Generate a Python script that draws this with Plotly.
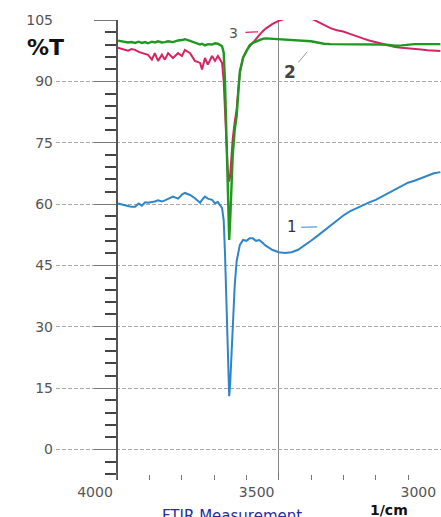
import plotly.graph_objects as go

# ---------------- data ----------------
wavenumber = [3997, 3980, 3966, 3955, 3944, 3933, 3923, 3913, 3904, 3892, 3883, 3873, 3861, 3852,
              3842, 3827, 3811, 3799, 3790, 3774, 3759, 3743, 3737, 3728, 3719, 3706, 3697, 3688,
              3675, 3670, 3666, 3662, 3658, 3655, 3653, 3650, 3646, 3642, 3636, 3630, 3625, 3620,
              3610, 3600, 3590, 3580, 3570, 3560, 3550, 3540, 3520, 3500, 3480, 3460, 3440, 3420,
              3400, 3380, 3360, 3340, 3320, 3300, 3280, 3260, 3240, 3220, 3200, 3180, 3160, 3140,
              3120, 3100, 3080, 3060, 3040, 3020, 3000]

curve1 = [60.1, 59.7, 59.5, 59.3, 59.3, 60.1, 59.6, 60.4, 60.3, 60.5, 60.6, 60.9, 60.6, 60.9,
          61.3, 61.8, 61.3, 62.3, 62.7, 62.2, 61.4, 60.3, 61.0, 61.8, 61.3, 61.0, 60.2, 60.5,
          59.0, 56.0, 48.0, 36.0, 24.0, 16.0, 13.0, 16.0, 24.0, 31.6, 40.0, 46.0, 48.5, 50.0,
          51.2, 51.0, 51.6, 51.6, 51.0, 51.2, 50.5, 49.8, 48.8, 48.2, 48.0, 48.2, 48.8, 49.8,
          51.0, 52.2, 53.5, 54.8, 56.0, 57.2, 58.2, 59.0, 59.7, 60.4, 61.0, 61.8, 62.6, 63.5,
          64.4, 65.2, 65.7, 66.3, 67.0, 67.5, 67.8]

curve2 = [99.95, 99.7, 99.5, 99.6, 99.4, 99.7, 99.4, 99.6, 99.3, 99.7, 99.5, 99.8, 99.5, 99.6,
          99.8, 99.6, 100.0, 100.1, 100.3, 99.9, 99.5, 99.0, 99.2, 98.8, 99.1, 99.0, 99.3, 99.2,
          98.6, 97.0, 90.0, 79.0, 66.0, 57.0, 51.2, 56.0, 64.0, 72.0, 78.0, 81.5, 87.0, 92.5,
          95.8, 97.5, 98.8, 99.4, 99.8, 100.2, 100.4, 100.5, 100.4, 100.2, 100.1, 100.1, 100.0, 99.9,
          99.8, 99.5, 99.2, 99.1, 99.1, 99.1, 99.1, 99.1, 99.1, 99.1, 99.1, 99.0, 98.9, 98.7,
          98.8, 99.0, 99.1, 99.1, 99.1, 99.1, 99.1]

curve3 = [98.2, 97.9, 97.5, 97.9, 97.7, 97.2, 96.9, 96.6, 96.5, 95.3, 96.9, 95.0, 96.5, 95.3,
          96.9, 95.7, 96.9, 96.2, 97.7, 96.9, 95.0, 94.5, 92.9, 95.7, 94.1, 96.2, 95.0, 96.2,
          94.5, 90.0, 82.0, 75.0, 69.0, 66.0, 65.5, 67.0, 72.0, 76.0, 80.0, 83.0, 88.0, 92.0,
          95.8, 97.5, 98.5, 99.5, 100.4, 101.3, 102.2, 102.9, 104.0, 104.8, 105.3, 105.6, 105.6, 105.6,
          105.4, 104.6, 103.8, 103.0, 102.5, 102.2, 101.6, 101.0, 100.5, 100.0, 99.6, 99.2, 98.8, 98.4,
          98.2, 98.1, 98.0, 97.8, 97.6, 97.5, 97.4]

y_ticks = [0, 15, 30, 45, 60, 75, 90, 105]
x_ticks = [4000, 3500, 3000]
x_minor = [3900, 3800, 3700, 3600, 3400, 3300, 3200, 3100]

BLUE = "#2f86c6"
GREEN = "#1f981f"
RED = "#d6245e"

fig = go.Figure()
fig.add_trace(go.Scatter(x=wavenumber, y=curve1, mode="lines", yaxis="y",
                         line=dict(color=BLUE, width=2), hoverinfo="skip", showlegend=False))
fig.add_trace(go.Scatter(x=wavenumber, y=curve3, mode="lines", yaxis="y2",
                         line=dict(color=RED, width=2), hoverinfo="skip", showlegend=False))
fig.add_trace(go.Scatter(x=wavenumber, y=curve2, mode="lines", yaxis="y2",
                         line=dict(color=GREEN, width=2.4), hoverinfo="skip", showlegend=False))

L, R, T, B = 56, 0, 20, 37
x_range = [4188.6, 2998]
y_range = [-7.5, 105]
spine_pos = (117 - L) / (441 - L - R)

fig.update_layout(
    width=441, height=517,
    margin=dict(l=L, r=R, t=T, b=B),
    paper_bgcolor="white", plot_bgcolor="white",
    xaxis=dict(range=x_range, tickmode="array", tickvals=x_ticks,
               ticktext=[str(v) for v in x_ticks],
               showgrid=True, gridcolor="#8a8a8a", gridwidth=1,
               ticks="inside", ticklen=7, tickcolor="#777", tickwidth=1,
               minor=dict(tickmode="array", tickvals=x_minor, ticks="inside",
                          ticklen=5, tickcolor="#777", tickwidth=1.2, showgrid=False),
               showline=False, zeroline=False,
               ticklabelshift=22, ticklabelstandoff=2, ticklabeloverflow="allow",
               tickfont=dict(family="DejaVu Sans", size=14, color="#555")),
    yaxis=dict(range=y_range, tickmode="array", tickvals=y_ticks,
               ticktext=[str(v) for v in y_ticks],
               showgrid=True, gridcolor="#a8a8a8", gridwidth=1, griddash="4px,2px",
               ticks="", showline=False, zeroline=False, ticklabelstandoff=2,
               tickfont=dict(family="DejaVu Sans", size=14, color="#555")),
    yaxis2=dict(range=y_range, overlaying="y", anchor="free", position=spine_pos,
                side="left", tickmode="linear", tick0=0, dtick=15,
                showticklabels=False, showgrid=False, zeroline=False,
                showline=True, linecolor="#555", linewidth=1.5,
                ticks="outside", ticklen=22, tickcolor="#777", tickwidth=1,
                minor=dict(tickmode="linear", tick0=0, dtick=3, ticks="outside",
                           ticklen=11, tickcolor="#444", tickwidth=1.6, showgrid=False)),
)

ph = 517 - T - B
pw = 441 - L - R

def px_x(p):
    return (p - L) / pw

def px_y(p):
    return (517 - B - p) / ph

annotations = [
    dict(text="<b>%T</b>", xref="paper", yref="paper", x=px_x(45), y=px_y(48),
         xanchor="center", yanchor="middle", showarrow=False,
         font=dict(family="DejaVu Sans", size=22, color="#111")),
    dict(text="<b>1/cm</b>", xref="paper", yref="paper", x=px_x(389), y=px_y(510),
         xanchor="center", yanchor="middle", showarrow=False,
         font=dict(family="DejaVu Sans", size=14, color="#111")),
    dict(text="FTIR Measurement", xref="paper", yref="paper", x=px_x(232), y=px_y(505),
         xanchor="center", yanchor="top", showarrow=False,
         font=dict(family="DejaVu Sans", size=15, color="#2a2aa6")),
    dict(text="3", xref="x", yref="y", x=3564, y=102.1, ax=-24.5, ay=1,
         showarrow=True, arrowhead=0, arrowwidth=1.2, arrowcolor=RED, startstandoff=6,
         font=dict(family="DejaVu Sans", size=14, color="#555")),
    dict(text="<b>2</b>", xref="x", yref="y", x=3412, y=97.2, ax=-17, ay=20.5,
         showarrow=True, arrowhead=0, arrowwidth=1, arrowcolor="#999", startstandoff=1,
         font=dict(family="DejaVu Sans", size=17, color="#444")),
    dict(text="1", xref="x", yref="y", x=3381, y=54.4, ax=-25.5, ay=0.5,
         showarrow=True, arrowhead=0, arrowwidth=1, arrowcolor=BLUE, startstandoff=3,
         font=dict(family="DejaVu Sans", size=15, color="#333")),
]
fig.update_layout(annotations=annotations)

fig.write_html("out.html")
